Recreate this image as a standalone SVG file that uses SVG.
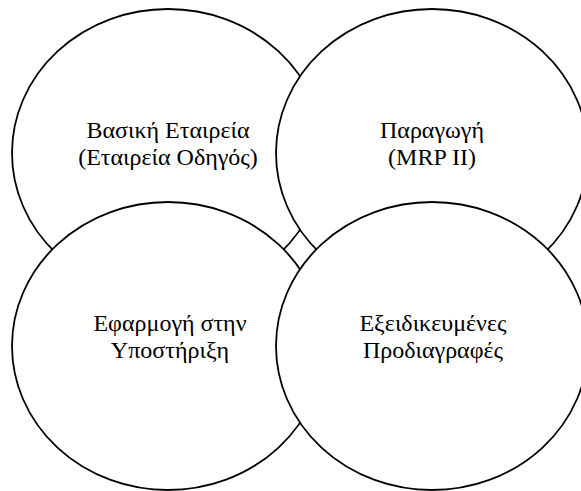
<svg xmlns="http://www.w3.org/2000/svg" width="581" height="491" viewBox="0 0 581 491">
  <style>
    .ring { fill: #ffffff; stroke: #000000; stroke-width: 1.8; }
    .label { font-family: 'Liberation Serif', 'Times New Roman', serif; font-size: 24px; fill: #000000; text-anchor: middle; }
  </style>
  <rect width="581" height="491" fill="#ffffff"/>
  <!-- Four overlapping areas, painted in stacking order (later ones cover earlier ones) -->
  <g id="basic-company">
    <ellipse class="ring" cx="168" cy="153" rx="156" ry="144"/>
    <text class="label" x="168" y="138">Βασική Εταιρεία</text>
    <text class="label" x="168" y="165">(Εταιρεία Οδηγός)</text>
  </g>
  <g id="production">
    <ellipse class="ring" cx="432" cy="153" rx="156" ry="144"/>
    <text class="label" x="432" y="138">Παραγωγή</text>
    <text class="label" x="432" y="165">(MRP II)</text>
  </g>
  <g id="support">
    <ellipse class="ring" cx="168" cy="346" rx="156" ry="144"/>
    <text class="label" x="170" y="331">Εφαρμογή στην</text>
    <text class="label" x="170" y="358">Υποστήριξη</text>
  </g>
  <g id="specifications">
    <ellipse class="ring" cx="432" cy="346" rx="156" ry="144"/>
    <text class="label" x="433" y="331">Εξειδικευμένες</text>
    <text class="label" x="433" y="358">Προδιαγραφές</text>
  </g>
  <g id="connectors"></g>
</svg>
